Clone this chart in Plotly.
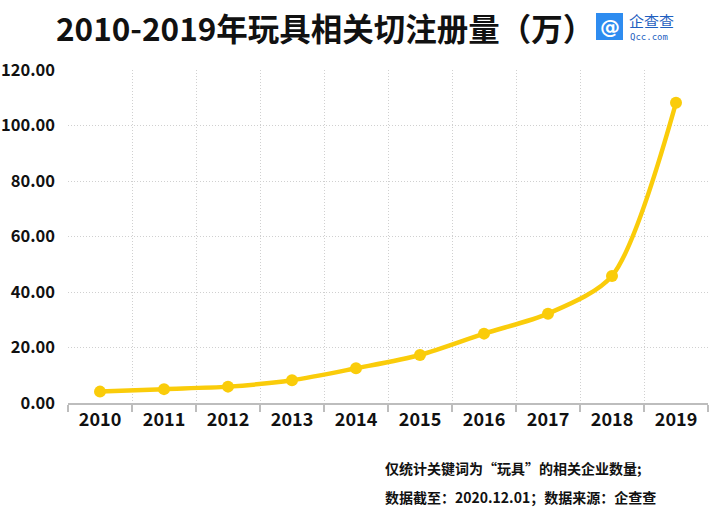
import plotly.graph_objects as go

years = ["2010", "2011", "2012", "2013", "2014", "2015", "2016", "2017", "2018", "2019"]
values = [4.1, 5.0, 5.9, 8.2, 12.5, 17.3, 25.0, 32.2, 45.8, 108.2]
y_ticks = [0, 20, 40, 60, 80, 100, 120]

title_text = "2010-2019年玩具相关切注册量（万）"
note1 = "仅统计关键词为“玩具”的相关企业数量;"
note2 = "数据截至：2020.12.01；数据来源：企查查"

FONT = "Noto Sans CJK SC"
GOLD = "#FACC0A"
idx = list(range(len(years)))

L, T, PW, PH = 68, 70, 640, 333

fig = go.Figure()
fig.add_trace(go.Scatter(
    x=idx, y=values, mode="lines+markers",
    line=dict(color=GOLD, width=4.5, shape="spline", smoothing=0.8),
    marker=dict(color=GOLD, size=12),
    showlegend=False, hoverinfo="skip",
))

fig.update_layout(
    width=710, height=514,
    margin=dict(l=L, r=710 - L - PW, t=T, b=514 - T - PH, pad=0),
    paper_bgcolor="white", plot_bgcolor="white",
    font=dict(family=FONT, color="#111"),
)
fig.update_xaxes(
    range=[-0.5, 9.5], automargin=False,
    tickmode="array", tickvals=idx, ticktext=years,
    showgrid=False, ticks="",
    tickfont=dict(family=FONT, size=18, color="#111", weight="bold"),
    showline=True, linecolor="#BDBDBD", linewidth=1.5,
    zeroline=False,
    minor=dict(tickmode="array", tickvals=[i - 0.5 for i in range(11)],
               showgrid=True, gridcolor="#D0D0D0", griddash="1px,2px", gridwidth=1,
               ticks="outside", ticklen=7, tickcolor="#BDBDBD", tickwidth=1.5),
)
fig.update_yaxes(
    range=[0, 120], automargin=False,
    tickmode="array", tickvals=y_ticks, tickformat=".2f",
    showgrid=True, gridcolor="#D0D0D0", griddash="1px,2px", gridwidth=1,
    zeroline=False, showline=False, ticks="",
    ticklabelstandoff=12,
    tickfont=dict(family=FONT, size=16.5, color="#111", weight="bold"),
)


def px(x):
    return (x - L) / PW


def py(y):
    return (T + PH - y) / PH


# Title
fig.add_annotation(text=title_text, xref="paper", yref="paper",
                   x=px(325), y=py(27),
                   xanchor="center", yanchor="middle", showarrow=False,
                   font=dict(family=FONT, size=31.5, color="#111", weight="bold"))

# Logo
fig.add_shape(type="rect", xref="paper", yref="paper",
              x0=px(596), x1=px(623), y0=py(40), y1=py(13),
              fillcolor="#2E8CF0", line=dict(width=0), layer="above")
fig.add_annotation(text="@", xref="paper", yref="paper",
                   x=px(609.5), y=py(26.5),
                   xanchor="center", yanchor="middle", showarrow=False,
                   font=dict(family="DejaVu Sans", size=20, color="white", weight="bold"))
fig.add_annotation(text="企查查", xref="paper", yref="paper",
                   x=px(627), y=py(20),
                   xanchor="left", yanchor="middle", showarrow=False,
                   font=dict(family=FONT, size=15, color="#1F5FBF"))
fig.add_annotation(text="Qcc.com", xref="paper", yref="paper",
                   x=px(628), y=py(37),
                   xanchor="left", yanchor="middle", showarrow=False,
                   font=dict(family="DejaVu Sans Mono", size=9, color="#1F5FBF"))

# Footnotes
fig.add_annotation(text=note1, xref="paper", yref="paper",
                   x=px(383), y=py(468),
                   xanchor="left", yanchor="middle", showarrow=False,
                   font=dict(family=FONT, size=14, color="#111", weight="bold"))
fig.add_annotation(text=note2, xref="paper", yref="paper",
                   x=px(383), y=py(497),
                   xanchor="left", yanchor="middle", showarrow=False,
                   font=dict(family=FONT, size=14, color="#111", weight="bold"))

fig.write_html("out.html", config={"displayModeBar": False},
               post_script="document.body.style.margin='0';document.body.style.overflow='hidden';")
